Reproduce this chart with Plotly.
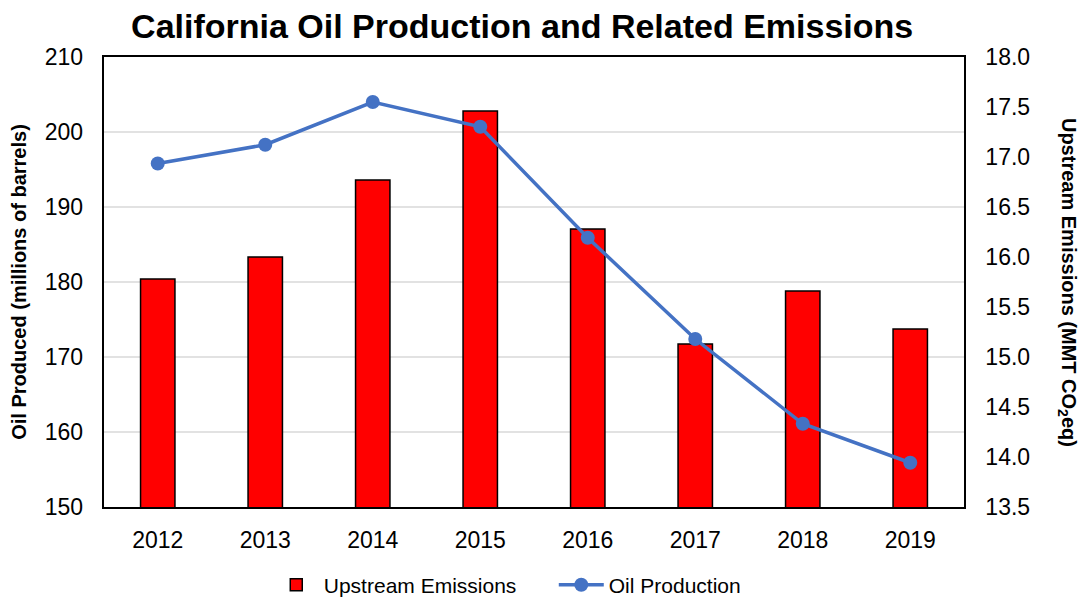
import plotly.graph_objects as go

# Data
years = ['2012', '2013', '2014', '2015', '2016', '2017', '2018', '2019']
upstream_emissions = [15.78, 16.00, 16.77, 17.46, 16.28, 15.13, 15.66, 15.28]  # MMT CO2eq
oil_production = [195.8, 198.3, 204.0, 200.7, 185.9, 172.4, 161.1, 155.9]  # millions of barrels

# horizontal gridlines follow the left (oil) axis
grid_values = [160, 170, 180, 190, 200]

FONT = 'Liberation Sans, Arial, sans-serif'
GRID = '#d9d9d9'

fig = go.Figure()

# bars on the primary axis (drawn right), line on the overlay so it sits on top
fig.add_trace(go.Bar(
    x=years,
    y=upstream_emissions,
    name='Upstream Emissions',
    yaxis='y',
    width=0.32,
    marker=dict(color='#FF0000', line=dict(color='black', width=1.5)),
))

fig.add_trace(go.Scatter(
    x=years,
    y=oil_production,
    name='Oil Production',
    yaxis='y2',
    mode='lines+markers',
    line=dict(color='#4472C4', width=3.5),
    marker=dict(color='#4472C4', size=14),
))

for g in grid_values:
    fig.add_shape(type='line', xref='paper', yref='y2', x0=0, x1=1, y0=g, y1=g,
                  line=dict(color=GRID, width=1.5), layer='below')

fig.update_layout(
    width=1087,
    height=598,
    plot_bgcolor='white',
    paper_bgcolor='white',
    font=dict(family=FONT, size=21, color='black'),
    title=dict(
        text='<b>California Oil Production and Related Emissions</b>',
        x=0.473, xanchor='center', y=0.97, yanchor='middle',
        font=dict(size=34, family=FONT, color='black'),
        automargin=False,
    ),
    # page body adds ~8px offset, margins compensate
    margin=dict(l=96, r=131, t=49, b=99),
    xaxis=dict(
        showline=True, linecolor='black', linewidth=1.5, mirror=True,
        showgrid=False, ticks='', ticklabelstandoff=12,
        tickfont=dict(size=23), automargin=False,
    ),
    yaxis=dict(
        range=[13.5, 18.0], dtick=0.5, tickformat='.1f', side='right',
        showgrid=False, zeroline=False,
        showline=True, linecolor='black', linewidth=1.5, mirror=True,
        ticks='', ticklabelstandoff=15, tickfont=dict(size=23),
        automargin=False,
    ),
    yaxis2=dict(
        range=[150, 210], dtick=10, overlaying='y', side='left',
        showgrid=False, zeroline=False,
        ticks='', ticklabelstandoff=20, tickfont=dict(size=23),
        title=dict(text='<b>Oil Produced (millions of barrels)</b>',
                   font=dict(size=20), standoff=14),
        automargin=False,
    ),
    legend=dict(
        orientation='h', x=0.523, xanchor='center',
        yref='container', y=0.035, yanchor='middle',
        font=dict(size=21), itemwidth=45, traceorder='normal',
        entrywidth=225, entrywidthmode='pixels',
    ),
    showlegend=True,
)

fig.add_annotation(
    text='<b>Upstream Emissions (MMT CO<sub>2</sub>eq)</b>',
    xref='paper', yref='paper', x=1.121, y=0.5,
    xanchor='center', yanchor='middle',
    textangle=90, showarrow=False,
    font=dict(size=20, family=FONT, color='black'),
)

fig.write_html('out.html')
